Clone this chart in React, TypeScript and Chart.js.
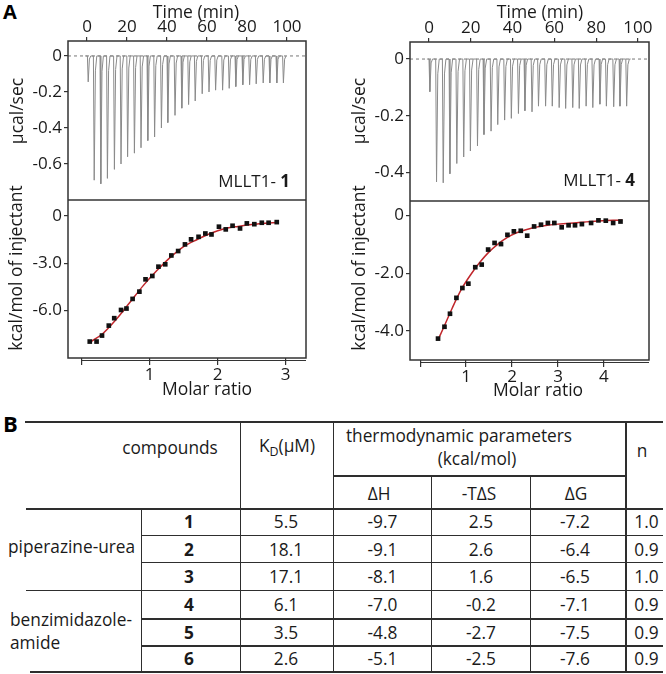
import React, { useEffect, useRef } from 'react';
import { Chart, registerables } from 'chart.js';

Chart.register(...registerables);

const FONT = "'Open Sans', 'DejaVu Sans', sans-serif";

// ---------------- Panel A, left: MLLT1-1 ----------------
const L_INJ_TIME = [0.2, 3.2, 6.5, 9.8, 13.3, 16.6, 19.9, 23.3, 26.6, 30, 33.4, 36.8, 40, 43.6, 47, 50.4, 53.7, 57.2, 60.6, 63.9, 67.4, 70.7, 74, 77.5, 80.9, 84.2, 87.7, 91, 94.5, 97.8];
const L_INJ_DEPTH = [-0.144, -0.69, -0.71, -0.68, -0.63, -0.6, -0.56, -0.54, -0.51, -0.47, -0.45, -0.4, -0.37, -0.33, -0.29, -0.27, -0.25, -0.21, -0.2, -0.19, -0.19, -0.18, -0.17, -0.16, -0.16, -0.155, -0.15, -0.15, -0.15, -0.15];
const L_RATIO = [0.12, 0.22, 0.3, 0.4, 0.48, 0.58, 0.66, 0.75, 0.85, 0.94, 1.04, 1.13, 1.23, 1.32, 1.42, 1.52, 1.61, 1.72, 1.82, 1.91, 2.02, 2.12, 2.22, 2.33, 2.43, 2.54, 2.65, 2.75, 2.87];
const L_HEAT = [-7.96, -7.96, -7.58, -6.95, -6.48, -5.96, -5.87, -5.26, -4.8, -4.02, -3.81, -3.22, -3.07, -2.51, -2.23, -1.81, -1.49, -1.33, -1.12, -1.18, -0.69, -0.86, -0.63, -0.8, -0.48, -0.53, -0.44, -0.44, -0.4];
const L_FIT_RATIO = [0.12, 0.3, 0.5, 0.7, 0.9, 1.1, 1.3, 1.5, 1.7, 1.9, 2.1, 2.3, 2.5, 2.7, 2.87];
const L_FIT_HEAT = [-8.0, -7.5, -6.6, -5.54, -4.45, -3.5, -2.65, -1.95, -1.5, -1.1, -0.82, -0.67, -0.55, -0.47, -0.42];
const L_TIME_TICKS = [0, 20, 40, 60, 80, 100];
const L_RAW_TICKS = [0, -0.2, -0.4, -0.6];
const L_RAW_LABELS = ['0', '-0.2', '-0.4', '-0.6'];
const L_RATIO_TICKS = [0, 1, 2, 3];
const L_RATIO_LABELS = ['', '1', '2', '3'];
const L_HEAT_TICKS = [0, -3, -6];
const L_HEAT_LABELS = ['0', '-3.0', '-6.0'];

// ---------------- Panel A, right: MLLT1-4 ----------------
const R_INJ_TIME = [0, 3.2, 6.4, 9.6, 12.9, 16.2, 19.4, 22.8, 25.9, 29.3, 32.5, 35.8, 39, 42.4, 45.5, 48.9, 52, 55.4, 58.6, 61.9, 65, 68.4, 71.5, 74.8, 78, 81.4, 84.5, 88, 91, 94.2];
const R_INJ_DEPTH = [-0.115, -0.433, -0.436, -0.404, -0.368, -0.345, -0.324, -0.306, -0.266, -0.254, -0.231, -0.215, -0.209, -0.192, -0.182, -0.186, -0.166, -0.166, -0.166, -0.171, -0.174, -0.171, -0.174, -0.166, -0.171, -0.159, -0.166, -0.168, -0.166, -0.166];
const R_RATIO = [0.39, 0.53, 0.65, 0.79, 0.92, 1.05, 1.2, 1.34, 1.48, 1.62, 1.76, 1.9, 2.04, 2.19, 2.33, 2.48, 2.63, 2.78, 2.92, 3.08, 3.23, 3.37, 3.52, 3.72, 3.88, 4.04, 4.2, 4.36];
const R_HEAT = [-4.26, -3.85, -3.4, -2.85, -2.51, -2.36, -1.79, -1.7, -1.18, -0.95, -0.99, -0.67, -0.55, -0.53, -0.7, -0.38, -0.32, -0.26, -0.26, -0.41, -0.34, -0.34, -0.3, -0.26, -0.17, -0.18, -0.26, -0.21];
const R_FIT_RATIO = [0.39, 0.5, 0.7, 0.9, 1.1, 1.3, 1.5, 1.7, 1.9, 2.1, 2.4, 2.7, 3.0, 3.4, 3.8, 4.2, 4.4];
const R_FIT_HEAT = [-4.3, -3.92, -3.2, -2.55, -2.05, -1.62, -1.26, -0.98, -0.76, -0.6, -0.45, -0.36, -0.3, -0.25, -0.2, -0.17, -0.16];
const R_TIME_TICKS = [0, 20, 40, 60, 80, 100];
const R_RAW_TICKS = [0, -0.2, -0.4];
const R_RAW_LABELS = ['0', '-0.2', '-0.4'];
const R_RATIO_TICKS = [0, 1, 2, 3, 4];
const R_RATIO_LABELS = ['', '1', '2', '3', '4'];
const R_HEAT_TICKS = [0, -2, -4];
const R_HEAT_LABELS = ['0', '-2.0', '-4.0'];

// ---------------- Panel B table ----------------
const GROUPS = ['piperazine-urea', 'benzimidazole-\namide'];
const COMPOUND_IDS = ['1', '2', '3', '4', '5', '6'];
const KD_UM = [5.5, 18.1, 17.1, 6.1, 3.5, 2.6];
const DELTA_H = [-9.7, -9.1, -8.1, -7.0, -4.8, -5.1];
const MINUS_T_DELTA_S = [2.5, 2.6, 1.6, -0.2, -2.7, -2.5];
const DELTA_G = [-7.2, -6.4, -6.5, -7.1, -7.5, -7.6];
const N_STOICH = [1.0, 0.9, 1.0, 0.9, 0.9, 0.9];

function buildTrace(times: number[], depths: number[], start: number, end: number) {
  const pts: { x: number; y: number }[] = [{ x: start, y: 0 }];
  times.forEach((t, i) => {
    const d = depths[i];
    pts.push({ x: t, y: 0 }, { x: t + 0.4, y: d }, { x: t + 1.0, y: d * 0.12 }, { x: t + 1.7, y: 0 });
  });
  pts.push({ x: end, y: 0 });
  return pts;
}

const zip = (xs: number[], ys: number[]) => xs.map((x, i) => ({ x, y: ys[i] }));

const labelCb = (values: number[], labels: string[]) => (v: any) => {
  const i = values.findIndex((u) => Math.abs(u - Number(v)) < 1e-9);
  return i >= 0 ? labels[i] : '';
};

const framePlugin = {
  id: 'itcFrame',
  afterDatasetsDraw(chart: any, _a: any, opts: any) {
    const { ctx, chartArea: a, scales } = chart;
    ctx.save();
    ctx.strokeStyle = '#333';
    ctx.lineWidth = 1.5;
    ctx.strokeRect(a.left, a.top, a.right - a.left, a.bottom - a.top);
    ctx.beginPath();
    const sy = scales.yt.bottom;
    ctx.moveTo(a.left, sy);
    ctx.lineTo(a.right, sy);
    ctx.stroke();
    ctx.beginPath();
    ctx.lineWidth = 1.2;
    const x0 = scales.xb.getPixelForValue(0);
    ctx.moveTo(x0, a.bottom + 2.5);
    ctx.lineTo(a.right, a.bottom + 2.5);
    ctx.stroke();

    ctx.fillStyle = '#1a1a1a';
    ctx.textBaseline = 'middle';
    ctx.textAlign = 'center';
    ctx.font = `17.5px ${FONT}`;
    for (const t of opts.texts) {
      ctx.save();
      ctx.translate(t.x, t.y);
      if (t.rot) ctx.rotate(-Math.PI / 2);
      ctx.fillText(t.t, 0, 0);
      ctx.restore();
    }
    const tag = opts.tag;
    ctx.textAlign = 'right';
    ctx.font = `bold 17px ${FONT}`;
    const bw = ctx.measureText(tag.bold).width;
    ctx.fillText(tag.bold, tag.right, tag.y);
    ctx.font = `17px ${FONT}`;
    ctx.fillText(tag.plain, tag.right - bw, tag.y);
    ctx.restore();
  },
};

const PANELS = [
  {
    left: 0,
    area: { l: 68, r: 306, t: 41, b: 358 },
    weights: [159, 158],
    xt: [-9.5, 109.5],
    yt: [-0.8, 0.083],
    xb: [-0.2, 3.3],
    yb: [-9, 1],
    trace: buildTrace(L_INJ_TIME, L_INJ_DEPTH, -1, 99.5),
    points: zip(L_RATIO, L_HEAT),
    fit: zip(L_FIT_RATIO, L_FIT_HEAT),
    timeTicks: L_TIME_TICKS,
    rawTicks: L_RAW_TICKS,
    rawLabels: L_RAW_LABELS,
    ratioTicks: L_RATIO_TICKS,
    ratioLabels: L_RATIO_LABELS,
    heatTicks: L_HEAT_TICKS,
    heatLabels: L_HEAT_LABELS,
    texts: [
      { t: 'Time (min)', x: 196, y: 13 },
      { t: 'Molar ratio', x: 207, y: 390 },
      { t: 'µcal/sec', x: 18, y: 111, rot: true },
      { t: 'kcal/mol of injectant', x: 17, y: 268, rot: true },
    ],
    tag: { plain: 'MLLT1- ', bold: '1', right: 290, y: 182 },
  },
  {
    left: 333,
    area: { l: 77, r: 316, t: 42, b: 360 },
    weights: [159, 159],
    xt: [-9.1, 105.3],
    yt: [-0.5, 0.06],
    xb: [-0.22, 4.98],
    yb: [-5, 0.5],
    trace: buildTrace(R_INJ_TIME, R_INJ_DEPTH, -1, 96.5),
    points: zip(R_RATIO, R_HEAT),
    fit: zip(R_FIT_RATIO, R_FIT_HEAT),
    timeTicks: R_TIME_TICKS,
    rawTicks: R_RAW_TICKS,
    rawLabels: R_RAW_LABELS,
    ratioTicks: R_RATIO_TICKS,
    ratioLabels: R_RATIO_LABELS,
    heatTicks: R_HEAT_TICKS,
    heatLabels: R_HEAT_LABELS,
    texts: [
      { t: 'Time (min)', x: 207, y: 13 },
      { t: 'Molar ratio', x: 205, y: 391 },
      { t: 'µcal/sec', x: 27, y: 111, rot: true },
      { t: 'kcal/mol of injectant', x: 27, y: 268, rot: true },
    ],
    tag: { plain: 'MLLT1- ', bold: '4', right: 302, y: 181 },
  },
];

function makeConfig(p: any): any {
  const W = 333, H = 400;
  const tickFont = { family: FONT, size: 17 };
  const grid = { drawOnChartArea: false, drawTicks: true, tickLength: 4, color: '#333', lineWidth: 1.2 };
  const setTicks = (values: number[]) => (s: any) => {
    s.ticks = values.map((v) => ({ value: v }));
  };
  return {
    type: 'scatter',
    data: {
      datasets: [
        {
          data: p.points, xAxisID: 'xb', yAxisID: 'yb', pointStyle: 'rect', pointRadius: 3.3,
          backgroundColor: '#111', borderWidth: 0, showLine: false,
        },
        {
          data: p.fit, xAxisID: 'xb', yAxisID: 'yb', showLine: true, pointRadius: 0,
          borderColor: '#c0262b', borderWidth: 1.5, cubicInterpolationMode: 'monotone',
        },
        {
          data: p.trace, xAxisID: 'xt', yAxisID: 'yt', showLine: true, pointRadius: 0,
          borderColor: '#8a8a8a', borderWidth: 1,
        },
        {
          data: [{ x: p.xt[0], y: 0 }, { x: p.xt[1], y: 0 }], xAxisID: 'xt', yAxisID: 'yt', showLine: true,
          pointRadius: 0, borderColor: '#777', borderWidth: 1, borderDash: [3, 3],
        },
      ],
    },
    options: {
      responsive: false,
      animation: false,
      devicePixelRatio: 1,
      events: [],
      layout: { padding: { left: 0, right: W - p.area.r, top: 0, bottom: 0 } },
      plugins: {
        legend: { display: false },
        tooltip: { enabled: false },
        itcFrame: { texts: p.texts, tag: p.tag },
      },
      scales: {
        xt: {
          type: 'linear', position: 'top', min: p.xt[0], max: p.xt[1],
          afterFit: (s: any) => { s.height = p.area.t; },
          afterBuildTicks: setTicks(p.timeTicks),
          ticks: { font: tickFont, color: '#1a1a1a', padding: 0, maxRotation: 0, autoSkip: false },
          grid, border: { display: false },
        },
        xb: {
          type: 'linear', position: 'bottom', min: p.xb[0], max: p.xb[1],
          afterFit: (s: any) => { s.height = H - p.area.b; },
          afterBuildTicks: setTicks(p.ratioTicks),
          ticks: { font: tickFont, color: '#1a1a1a', padding: 0, maxRotation: 0, autoSkip: false, callback: labelCb(p.ratioTicks, p.ratioLabels) },
          grid: { ...grid, tickLength: 7 }, border: { display: false },
        },
        yb: {
          type: 'linear', position: 'left', stack: 'v', stackWeight: p.weights[1], min: p.yb[0], max: p.yb[1],
          afterFit: (s: any) => { s.width = p.area.l; },
          afterBuildTicks: setTicks(p.heatTicks),
          ticks: { font: tickFont, color: '#1a1a1a', padding: 2, callback: labelCb(p.heatTicks, p.heatLabels) },
          grid, border: { display: false },
        },
        yt: {
          type: 'linear', position: 'left', stack: 'v', stackWeight: p.weights[0], min: p.yt[0], max: p.yt[1],
          afterFit: (s: any) => { s.width = p.area.l; },
          afterBuildTicks: setTicks(p.rawTicks),
          ticks: { font: tickFont, color: '#1a1a1a', padding: 2, callback: labelCb(p.rawTicks, p.rawLabels) },
          grid, border: { display: false },
        },
      },
    },
    plugins: [framePlugin],
  };
}

function ItcPanel({ p }: { p: any }) {
  const ref = useRef<HTMLCanvasElement>(null);
  useEffect(() => {
    const chart = new Chart(ref.current as HTMLCanvasElement, makeConfig(p));
    return () => chart.destroy();
  }, [p]);
  return (
    <canvas
      ref={ref}
      width={333}
      height={400}
      style={{ position: 'absolute', left: p.left, top: 0, width: 333, height: 400 }}
    />
  );
}

const LINE = '#2e2e2e';
const TFONT = 17.3;

function HLine({ y, x1, x2, w = 1.3 }: any) {
  return <div style={{ position: 'absolute', left: x1, top: y - w / 2, width: x2 - x1, height: w, background: LINE }} />;
}
function VLine({ x, y1, y2, w = 1.3 }: any) {
  return <div style={{ position: 'absolute', left: x - w / 2, top: y1, width: w, height: y2 - y1, background: LINE }} />;
}
function Cell({ cx, cy, children, bold }: any) {
  return (
    <div
      style={{
        position: 'absolute', left: cx - 80, top: cy - 13, width: 160, height: 26,
        display: 'flex', alignItems: 'center', justifyContent: 'center', whiteSpace: 'nowrap',
        fontFamily: FONT, fontSize: TFONT, fontWeight: bold ? 700 : 400, lineHeight: 1, color: '#1a1a1a',
      }}
    >
      <span>{children}</span>
    </div>
  );
}
function LeftText({ x, cy, children }: any) {
  return (
    <div
      style={{
        position: 'absolute', left: x, top: cy - 13, height: 26, display: 'flex', alignItems: 'center',
        whiteSpace: 'nowrap', fontFamily: FONT, fontSize: TFONT, lineHeight: 1, color: '#1a1a1a',
      }}
    >
      <span>{children}</span>
    </div>
  );
}

function Table() {
  const rowEdges = [508.5, 535.7, 562.7, 590.7, 619, 646, 672.3];
  const rowMid = rowEdges.slice(0, -1).map((y, i) => (y + rowEdges[i + 1]) / 2);
  const R = 663;
  const bottom = rowEdges[6];
  const groupLines = GROUPS[1].split('\n');
  return (
    <>
      <div style={{ position: 'absolute', left: 3, top: 411.5, fontFamily: FONT, fontWeight: 700, fontSize: 22, lineHeight: 1 }}>B</div>
      <HLine y={422.3} x1={25} x2={R} w={2} />
      <HLine y={476} x1={333.3} x2={626} />
      <HLine y={508.5} x1={26} x2={R} w={2} />
      {[1, 2, 4, 5].map((k) => (
        <HLine key={k} y={rowEdges[k]} x1={141.7} x2={R} />
      ))}
      <HLine y={rowEdges[3]} x1={26} x2={R} />
      <HLine y={bottom} x1={30} x2={R} w={2} />
      <VLine x={141.7} y1={508.5} y2={bottom} />
      <VLine x={240.7} y1={422.3} y2={bottom} />
      <VLine x={333.3} y1={422.3} y2={bottom} />
      <VLine x={431.7} y1={476} y2={bottom} />
      <VLine x={530.7} y1={476} y2={bottom} />
      <VLine x={626} y1={422.3} y2={bottom} />

      <Cell cx={170} cy={448}>compounds</Cell>
      <Cell cx={287} cy={448}>
        K<sub style={{ fontSize: '0.72em', verticalAlign: '-0.3em', lineHeight: 1 }}>D</sub>(µM)
      </Cell>
      <Cell cx={459} cy={436}>thermodynamic parameters</Cell>
      <Cell cx={477} cy={459}>(kcal/mol)</Cell>
      <Cell cx={642} cy={451}>n</Cell>
      <Cell cx={379} cy={494}>ΔH</Cell>
      <Cell cx={479} cy={494}>-TΔS</Cell>
      <Cell cx={576} cy={494}>ΔG</Cell>

      <LeftText x={8} cy={547}>{GROUPS[0]}</LeftText>
      <LeftText x={10} cy={620}>{groupLines[0]}</LeftText>
      <LeftText x={10} cy={643}>{groupLines[1]}</LeftText>

      {COMPOUND_IDS.map((id, i) => (
        <React.Fragment key={id}>
          <Cell cx={189} cy={rowMid[i]} bold>{id}</Cell>
          <Cell cx={286} cy={rowMid[i]}>{KD_UM[i].toFixed(1)}</Cell>
          <Cell cx={382.5} cy={rowMid[i]}>{DELTA_H[i].toFixed(1)}</Cell>
          <Cell cx={481} cy={rowMid[i]}>{MINUS_T_DELTA_S[i].toFixed(1)}</Cell>
          <Cell cx={575} cy={rowMid[i]}>{DELTA_G[i].toFixed(1)}</Cell>
          <Cell cx={646.5} cy={rowMid[i]}>{N_STOICH[i].toFixed(1)}</Cell>
        </React.Fragment>
      ))}
    </>
  );
}

export default function App() {
  return (
    <div style={{ position: 'absolute', left: 0, top: 0, width: 666, height: 674, background: '#fff', overflow: 'hidden' }}>
      <div style={{ position: 'absolute', left: 3, top: 2, fontFamily: FONT, fontWeight: 700, fontSize: 20, lineHeight: 1 }}>A</div>
      {PANELS.map((p, i) => (
        <ItcPanel key={i} p={p} />
      ))}
      <Table />
    </div>
  );
}
